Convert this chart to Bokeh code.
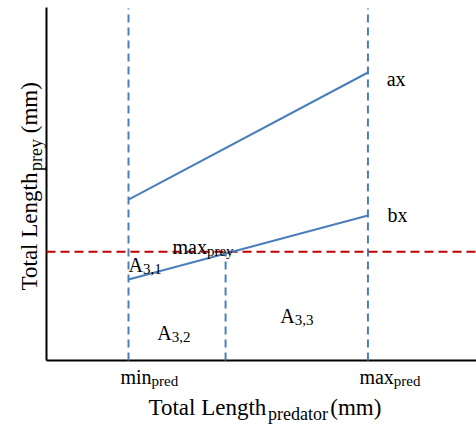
import math
from bokeh.plotting import figure
from bokeh.models import Range1d
from bokeh.core.properties import value
from bokeh.embed import file_html
from bokeh.resources import INLINE

# ---- data (length units, mm-like) ----
pred_min = 25.0          # min_pred
pred_max = 98.0          # max_pred
pred_split = 54.6        # boundary between A3,2 and A3,3
prey_max = 34.0          # max_prey
line_x = [pred_min, pred_max]
ax_y = [50.3, 90.0]      # upper line "ax"
bx_y = [25.3, 45.3]      # lower line "bx"
guide_top = 110.0
axis_top = 110.3
x_end = 131.1

# labels: (main, sub, x, y)
labels_main = ["ax", "bx", "max", "A", "A", "A", "min", "max"]
labels_sub = ["", "", "prey", "3,1", "3,2", "3,3", "pred", "pred"]
labels_x = [103.7, 104.0, 38.4, 25.0, 33.8, 71.3, 22.56, 95.4]
labels_y = [88.1, 45.6, 35.6, 30.0, 8.75, 14.06, -5.31, -5.31]

x_title = ("Total Length", "predator", "(mm)")
y_title = ("Total Length", "prey", "(mm)")

# ---- layout scale ----
PXX = 3.28   # px per unit, x
PXY = 3.2    # px per unit, y
W, H = 476, 425

FONT = "Liberation Serif"
ADV = {'T': 611, 'o': 500, 't': 278, 'a': 444, 'l': 278, ' ': 250, 'L': 611,
       'e': 444, 'n': 500, 'g': 500, 'h': 500, 'p': 500, 'r': 333, 'd': 500,
       '(': 333, 'm': 778, ')': 333, 'y': 500, 'i': 278, 'x': 500, 'b': 500,
       'A': 722, '3': 500, ',': 250, '1': 500, '2': 500}


def tw(s, size):
    return sum(ADV.get(c, 500) for c in s) * size / 1000.0


p = figure(width=W, height=H, output_backend="svg", toolbar_location=None,
           x_range=Range1d(-46 / PXX, 430 / PXX), y_range=Range1d(-65 / PXY, 360 / PXY),
           x_axis_location=None, y_axis_location=None, min_border=0,
           background_fill_color="white", border_fill_color="white")
p.outline_line_color = None
p.xgrid.visible = False
p.ygrid.visible = False

BLUE = "#4a7ebb"
RED = "#c00000"

# axes lines
p.line([0, 0], [0, axis_top], line_color="black", line_width=2)
p.line([0, x_end], [0, 0], line_color="black", line_width=2)

# vertical guides
p.line([pred_min, pred_min], [0, guide_top], line_color=BLUE, line_width=2, line_dash="8 5")
p.line([pred_max, pred_max], [0, guide_top], line_color=BLUE, line_width=2, line_dash="8 5")
p.line([pred_split, pred_split], [0, prey_max], line_color=BLUE, line_width=2, line_dash="8 5")

# horizontal max prey
p.line([0, x_end], [prey_max, prey_max], line_color=RED, line_width=2, line_dash="9 5")

# ax, bx lines
p.line(line_x, ax_y, line_color=BLUE, line_width=2)
p.line(line_x, bx_y, line_color=BLUE, line_width=2)


def txt(x, y, s, size, angle=0.0):
    p.text(x=[x], y=[y], text=[s], text_font=value(FONT), text_font_size=f"{size}px",
           text_color="black", text_align="left", text_baseline="alphabetic", angle=angle)


LS, LSS, DROP = 20, 15, 4
for m, s, x, y in zip(labels_main, labels_sub, labels_x, labels_y):
    txt(x, y, m, LS)
    if s:
        txt(x + tw(m, LS) / PXX, y - DROP / PXY, s, LSS)

TS, TSS, TDROP = 23, 18, 6
SPACE = tw(" ", TS)
# x title
xt_x, xt_y = 31.1, -14.7
cx = xt_x
txt(cx, xt_y, x_title[0], TS)
cx += tw(x_title[0], TS) / PXX
txt(cx, xt_y - TDROP / PXY, x_title[1], TSS)
cx += (tw(x_title[1], TSS) + SPACE * 0.4) / PXX
txt(cx, xt_y, x_title[2], TS)

# y title (rotated)
yt_x, yt_y = -5.18, 21.9
cy = yt_y
a = math.pi / 2
txt(yt_x, cy, y_title[0], TS, a)
cy += tw(y_title[0], TS) / PXY
txt(yt_x + TDROP / PXX, cy, y_title[1], TSS, a)
cy += (tw(y_title[1], TSS) + SPACE) / PXY
txt(yt_x, cy, y_title[2], TS, a)

open("out.html", "w").write(file_html(p, INLINE))
